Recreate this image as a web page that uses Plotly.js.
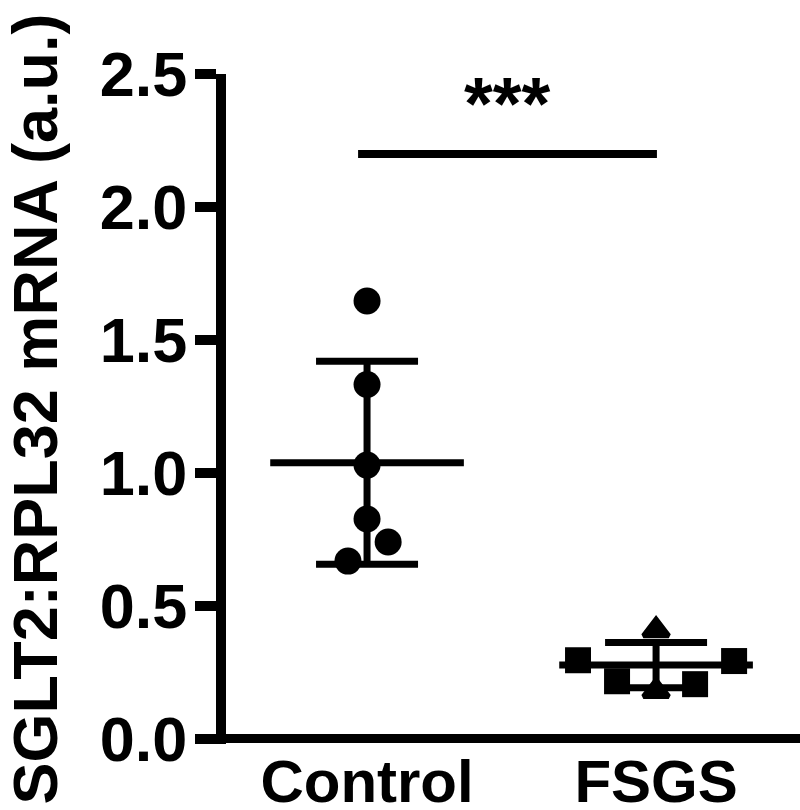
<!DOCTYPE html>
<html>
<head>
<meta charset="utf-8">
<script src="https://cdn.plot.ly/plotly-3.0.1.min.js"></script>
<style>html,body{margin:0;padding:0;background:#fff;}#chart{width:800px;height:810px;}</style>
</head>
<body>
<div id="chart"></div>
<script>
// ---- data ----
const categories = ["Control", "FSGS"];
const groupX = [1, 2];

const controlValues = [1.646, 1.332, 1.029, 0.826, 0.740, 0.668];
const controlJitter = [0, 0, 0, 0, 0.073, -0.066];

const fsgsSquareValues = [0.295, 0.292, 0.216, 0.205];
const fsgsSquareJitter = [-0.27, 0.27, -0.135, 0.135];
const fsgsTriangleValues = [0.408, 0.179];
const fsgsTriangleJitter = [0, 0];

const groupMean = [1.038, 0.277];
const groupSD = [0.382, 0.085];

const sigFrom = 0.969, sigTo = 2.003, sigY = 2.199;
const sigLabel = "***";
const sigLabelY = 2.389;

const yTicks = [0, 0.5, 1.0, 1.5, 2.0, 2.5];
const yTitle = "SGLT2:RPL32 mRNA (a.u.)";

// ---- build traces ----
const FONT = "Liberation Sans, Arial, Helvetica, sans-serif";
const meanHalf = 0.335;
const traces = [];

groupX.forEach((gx, i) => {
  traces.push({
    x: [gx - meanHalf, gx + meanHalf], y: [groupMean[i], groupMean[i]],
    mode: "lines", line: {color: "#000", width: 7}, hoverinfo: "skip", showlegend: false
  });
  traces.push({
    x: [gx], y: [groupMean[i]], mode: "markers",
    marker: {size: 1, color: "rgba(0,0,0,0)"},
    error_y: {type: "data", array: [groupSD[i]], visible: true, color: "#000", thickness: 7, width: 51},
    hoverinfo: "skip", showlegend: false
  });
});

// significance bar
traces.push({
  x: [sigFrom, sigTo], y: [sigY, sigY], mode: "lines",
  line: {color: "#000", width: 8}, hoverinfo: "skip", showlegend: false
});

traces.push({
  x: controlValues.map((v, i) => groupX[0] + controlJitter[i]), y: controlValues,
  mode: "markers", marker: {symbol: "circle", size: 27, color: "#000"}, showlegend: false
});
traces.push({
  x: fsgsSquareValues.map((v, i) => groupX[1] + fsgsSquareJitter[i]), y: fsgsSquareValues,
  mode: "markers", marker: {symbol: "square", size: 26, color: "#000"}, showlegend: false
});
traces.push({
  x: fsgsTriangleValues.map((v, i) => groupX[1] + fsgsTriangleJitter[i]), y: fsgsTriangleValues,
  mode: "markers", marker: {symbol: "triangle-up", size: 22, color: "#000", line: {color: "#000", width: 5}}, showlegend: false
});

const layout = {
  width: 800, height: 810,
  margin: {l: 226, r: 0, t: 74, b: 66},
  paper_bgcolor: "#fff", plot_bgcolor: "#fff",
  showlegend: false,
  font: {family: FONT, color: "#000", weight: "bold"},
  xaxis: {
    range: [0.512, 2.498],
    tickvals: groupX, ticktext: categories,
    ticks: "", showline: false, showgrid: false, zeroline: false,
    tickfont: {size: 60, family: FONT, weight: "bold", color: "#000"},
    ticklabelstandoff: -3
  },
  yaxis: {
    range: [-0.02, 2.5],
    tickvals: yTicks, tickformat: ".1f",
    ticks: "outside", ticklen: 21, tickwidth: 10, tickcolor: "#000",
    showline: true, linewidth: 10, linecolor: "#000",
    showgrid: false,
    zeroline: true, zerolinewidth: 9, zerolinecolor: "#000",
    tickfont: {size: 63, family: FONT, weight: "bold", color: "#000"},
    ticklabelstandoff: -5,
    title: {text: yTitle, font: {size: 63, family: FONT, weight: "bold", color: "#000"}, standoff: 48}
  },
  annotations: [{
    x: (sigFrom + sigTo) / 2, y: sigLabelY, xref: "x", yref: "y",
    text: sigLabel, showarrow: false,
    font: {size: 74, family: FONT, weight: "bold", color: "#000"}
  }]
};

Plotly.newPlot("chart", traces, layout, {staticPlot: true, displayModeBar: false});
</script>
</body>
</html>
